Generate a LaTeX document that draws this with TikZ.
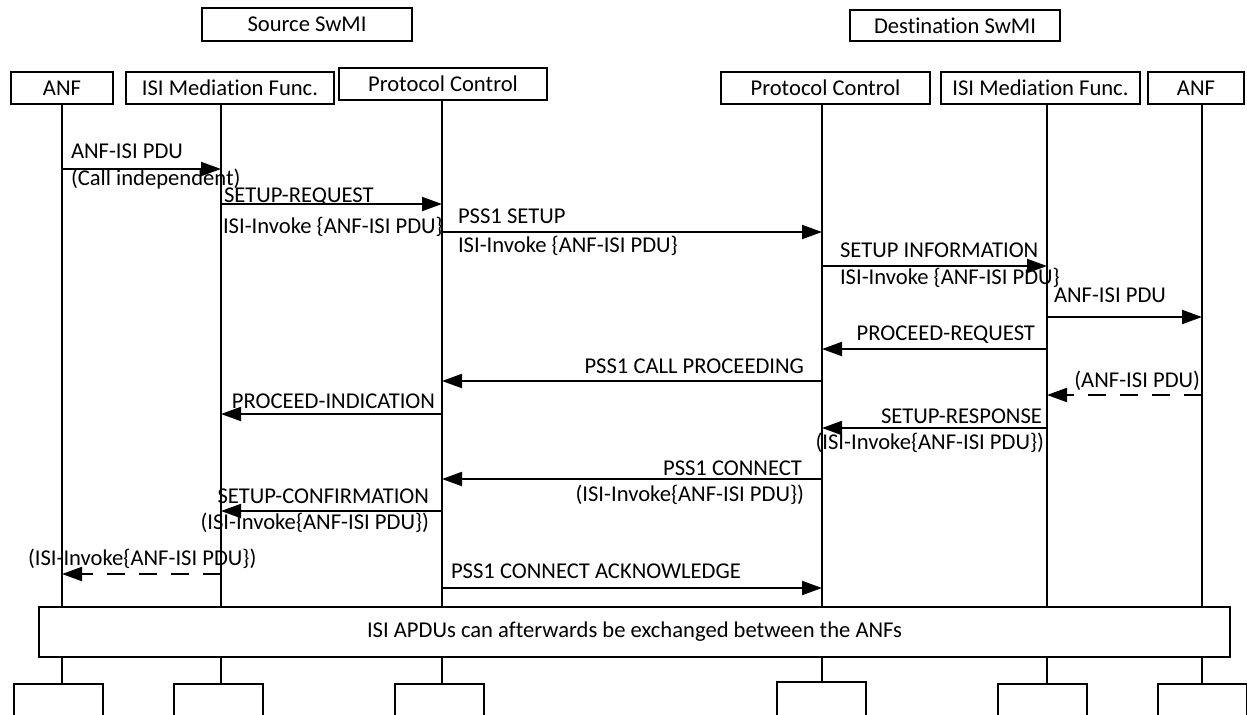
\documentclass[tikz,border=0pt]{standalone}
\usepackage{fontspec}
\setmainfont{Carlito}[Ligatures=NoCommon]
\usetikzlibrary{arrows.meta}
\begin{document}
\begin{tikzpicture}[x=0.5pt,y=-0.5pt,line width=1pt,
  every node/.style={font=\fontsize{11.3}{13}\selectfont,inner sep=0pt},
  hbox/.style={draw,minimum height=16pt},
  bbox/.style={draw,anchor=north,minimum width=44.5pt,minimum height=25pt},
  msg/.style={-{Triangle[length=10pt,width=7pt]}},
  dmsg/.style={msg,dash pattern=on 9pt off 7pt},
  lab/.style={anchor=base west},
  rlab/.style={anchor=base east}]
\useasboundingbox (0,0) rectangle (1247,714);
\clip (0,0) rectangle (1247,714);
% headers
\node[hbox,minimum width=105pt,minimum height=16.5pt] (srcsw) at (307,24.5) {Source SwMI};
\node[hbox,minimum width=105pt,minimum height=15.5pt] (dstsw) at (955,25.5) {Destination SwMI};
% lifeline heads
\node[hbox,minimum width=51pt] (anf1) at (62,88) {ANF};
\node[hbox,minimum width=104pt] (isi1) at (230,88) {ISI Mediation Func.};
\node[hbox,minimum width=104pt] (pc1) at (443,84) {Protocol Control};
\node[hbox,minimum width=104.5pt] (pc2) at (825.5,88) {Protocol Control};
\node[hbox,minimum width=99.5pt] (isi2) at (1040.5,88) {ISI Mediation Func.};
\node[hbox,minimum width=48pt] (anf2) at (1196,88) {ANF};
% bottom boxes
\node[bbox] (b1) at (58.5,683) {};
\node[bbox] (b2) at (218.5,683) {};
\node[bbox] (b3) at (439.5,683) {};
\node[bbox] (b4) at (821.5,681) {};
\node[bbox] (b5) at (1042.5,683) {};
\node[bbox] (b6) at (1202,683) {};
% lifelines
\coordinate (t1) at (62,104);
\coordinate (t2) at (221,104);
\coordinate (t3) at (442,100);
\coordinate (t4) at (822,104);
\coordinate (t5) at (1047,104);
\coordinate (t6) at (1202,104);
\draw (t1) -- (t1 |- b1.north);
\draw (t2) -- (t2 |- b2.north);
\draw (t3) -- (t3 |- b3.north);
\draw (t4) -- (t4 |- b4.north);
\draw (t5) -- (t5 |- b5.north);
\draw (t6) -- (t6 |- b6.north);
% messages
\draw[msg] (t1 |- 0,169) -- (t2 |- 0,169);
\node[lab] (m1a) at (70,158) {ANF-ISI PDU};
\node[lab] (m1b) at (70,185) {(Call independent)};
\draw[msg] (t2 |- 0,204) -- (t3 |- 0,204);
\node[lab] (m2a) at (223,202) {SETUP-REQUEST};
\node[lab] (m2b) at (222,233) {ISI-Invoke \{ANF-ISI PDU\}};
\draw[msg] (t3 |- 0,232) -- (t4 |- 0,232);
\node[lab] (m3a) at (457,223) {PSS1 SETUP};
\node[lab] (m3b) at (457,252) {ISI-Invoke \{ANF-ISI PDU\}};
\draw[msg] (t4 |- 0,266) -- (t5 |- 0,266);
\node[lab] (m4a) at (839,257) {SETUP INFORMATION};
\node[lab] (m4b) at (839,284) {ISI-Invoke \{ANF-ISI PDU\}};
\draw[msg] (t5 |- 0,317) -- (t6 |- 0,317);
\node[lab] (m5) at (1053,302) {ANF-ISI PDU};
\draw[msg] (t5 |- 0,349) -- (t4 |- 0,349);
\node[rlab] (m6) at (1036,340) {PROCEED-REQUEST};
\draw[msg] (t4 |- 0,381) -- (t3 |- 0,381);
\node[rlab] (m7) at (805,373) {PSS1 CALL PROCEEDING};
\draw[dmsg] (t6 |- 0,395) -- (t5 |- 0,395);
\node[rlab] (m8) at (1201,387) {(ANF-ISI PDU)};
\draw[msg] (t3 |- 0,414) -- (t2 |- 0,414);
\node[rlab] (m9) at (436,408) {PROCEED-INDICATION};
\draw[msg] (t5 |- 0,428) -- (t4 |- 0,428);
\node[rlab] (m10a) at (1043,423) {SETUP-RESPONSE};
\node[rlab] (m10b) at (1045,449) {(ISI-Invoke\{ANF-ISI PDU\})};
\draw[msg] (t4 |- 0,479) -- (t3 |- 0,479);
\node[rlab] (m11a) at (803,475) {PSS1 CONNECT};
\node[rlab] (m11b) at (805,501) {(ISI-Invoke\{ANF-ISI PDU\})};
\draw[msg] (t3 |- 0,511) -- (t2 |- 0,511);
\node[rlab] (m12a) at (430,503) {SETUP-CONFIRMATION};
\node[rlab] (m12b) at (430,529) {(ISI-Invoke\{ANF-ISI PDU\})};
\draw[dmsg] (t2 |- 0,574) -- (t1 |- 0,574);
\node[lab] (m13) at (27,565) {(ISI-Invoke\{ANF-ISI PDU\})};
\draw[msg] (t3 |- 0,588) -- (t4 |- 0,588);
\node[lab] (m14) at (450,578) {PSS1 CONNECT ACKNOWLEDGE};
% note box
\node[draw,fill=white,minimum width=595.5pt,minimum height=25pt] (note) at (634.5,632) {ISI APDUs can afterwards be exchanged between the ANFs};
\end{tikzpicture}
\end{document}
